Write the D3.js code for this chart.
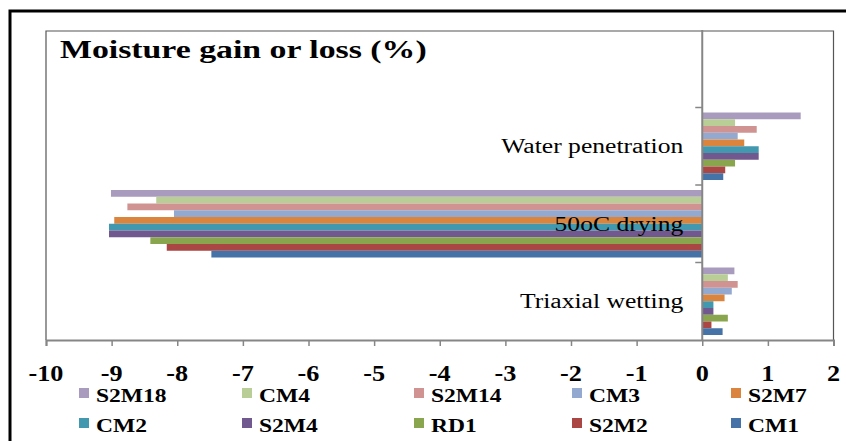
<!DOCTYPE html>
<html><head><meta charset="utf-8">
<script src="https://cdn.jsdelivr.net/npm/d3@7"></script>
<style>html,body{margin:0;padding:0;background:#fff;}svg{display:block;}</style>
</head><body>
<svg id="chart" width="846" height="441"></svg>
<script>
// ---- data ----
const categories = ["Water penetration", "50oC drying", "Triaxial wetting"];
const seriesNames = ["S2M18", "CM4", "S2M14", "CM3", "S2M7", "CM2", "S2M4", "RD1", "S2M2", "CM1"];
const seriesColors = ["#A99BBD", "#B9CD96", "#D19392", "#93A9CF", "#DB843D", "#4198AF", "#71588F", "#89A54E", "#AA4643", "#4572A7"];
const S2M18 = [1.50, -9.01, 0.49];
const CM4   = [0.50, -8.32, 0.39];
const S2M14 = [0.83, -8.76, 0.54];
const CM3   = [0.54, -8.05, 0.45];
const S2M7  = [0.64, -8.96, 0.34];
const CM2   = [0.86, -9.04, 0.17];
const S2M4  = [0.86, -9.04, 0.17];
const RD1   = [0.50, -8.41, 0.39];
const S2M2  = [0.35, -8.16, 0.14];
const CM1   = [0.32, -7.48, 0.31];
const seriesValues = [S2M18, CM4, S2M14, CM3, S2M7, CM2, S2M4, RD1, S2M2, CM1];
const xTicks = [-10, -9, -8, -7, -6, -5, -4, -3, -2, -1, 0, 1, 2];
const title = "Moisture gain or loss (%)";

// ---- drawing ----
const svg = d3.select("#chart");
const serif = "'Liberation Serif','Times New Roman',serif";
const plot = {left: 46, right: 833.5, top: 30, bottom: 340};

const x = d3.scaleLinear().domain([-10, 2]).range([plot.left, plot.right]);
const y = d3.scaleBand().domain([" ", ...categories]).range([plot.top, plot.bottom]).padding(0);
const bw = y.bandwidth();
const yInner = d3.scaleBand().domain(seriesNames).range([5, bw - 5]).padding(0);

// outer border
svg.append("path").attr("d", "M10,460 V11 H860").attr("fill", "none")
  .attr("stroke", "#000").attr("stroke-width", 3);

// plot box
svg.append("path").attr("d", `M${plot.left},${plot.bottom} V31 H${plot.right} V${plot.bottom}`)
  .attr("fill", "none").attr("stroke", "#555").attr("stroke-width", 1.2);

// title
svg.append("text").attr("transform", "translate(60,58) scale(1.3,1)")
  .attr("font-family", serif).attr("font-weight", "bold").attr("font-size", 26)
  .attr("fill", "#000").text(title);

// bars
const g = svg.append("g");
seriesNames.forEach((name, si) => {
  const vals = seriesValues[si];
  g.selectAll(null).data(categories.map((c, ci) => ({c, v: vals[ci]}))).enter()
    .append("rect")
    .attr("x", d => x(Math.min(0, d.v)))
    .attr("width", d => Math.abs(x(d.v) - x(0)))
    .attr("y", d => y(d.c) + yInner(name))
    .attr("height", yInner.bandwidth())
    .attr("fill", seriesColors[si]);
});

// x axis
const xAxis = d3.axisBottom(x).tickValues(xTicks).tickSize(6).tickFormat("");
const xa = svg.append("g").attr("transform", `translate(0,${plot.bottom})`).call(xAxis);
xa.select(".domain").attr("stroke", "#868686").attr("stroke-width", 2);
xa.selectAll(".tick line").attr("stroke", "#868686").attr("stroke-width", 1.5);
svg.selectAll(null).data(xTicks).enter().append("text")
  .attr("transform", d => `translate(${x(d)},381) scale(1.14,1)`)
  .attr("text-anchor", "middle").attr("font-family", serif).attr("font-weight", "bold")
  .attr("font-size", 23).attr("fill", "#000").text(d => d);

// category axis at zero
svg.append("line").attr("x1", x(0)).attr("x2", x(0)).attr("y1", plot.top).attr("y2", plot.bottom)
  .attr("stroke", "#868686").attr("stroke-width", 2);
const bounds = [" ", ...categories].map(c => y(c)).slice(1);
svg.selectAll(null).data(bounds).enter().append("line")
  .attr("x1", x(0) - 7).attr("x2", x(0)).attr("y1", d => d).attr("y2", d => d)
  .attr("stroke", "#868686").attr("stroke-width", 1.5);

// category labels
svg.selectAll(null).data(categories).enter().append("text")
  .attr("transform", d => `translate(${x(0) - 19},${y(d) + bw / 2 + 7}) scale(1.28,1)`)
  .attr("text-anchor", "end").attr("font-family", serif).attr("font-size", 20)
  .attr("fill", "#000").text(d => d);

// legend
const legCols = [84, 247, 419, 577, 736];
const legRows = [395, 425];
seriesNames.forEach((name, i) => {
  const lx = legCols[i % 5], ly = legRows[Math.floor(i / 5)];
  svg.append("rect").attr("x", lx - 5).attr("y", ly - 7).attr("width", 10).attr("height", 10)
    .attr("fill", seriesColors[i]);
  svg.append("text").attr("transform", `translate(${lx + 12},${ly + 6.5}) scale(1.24,1)`)
    .attr("font-family", serif).attr("font-weight", "bold").attr("font-size", 19)
    .attr("fill", "#000").text(name);
});
</script>
</body></html>
